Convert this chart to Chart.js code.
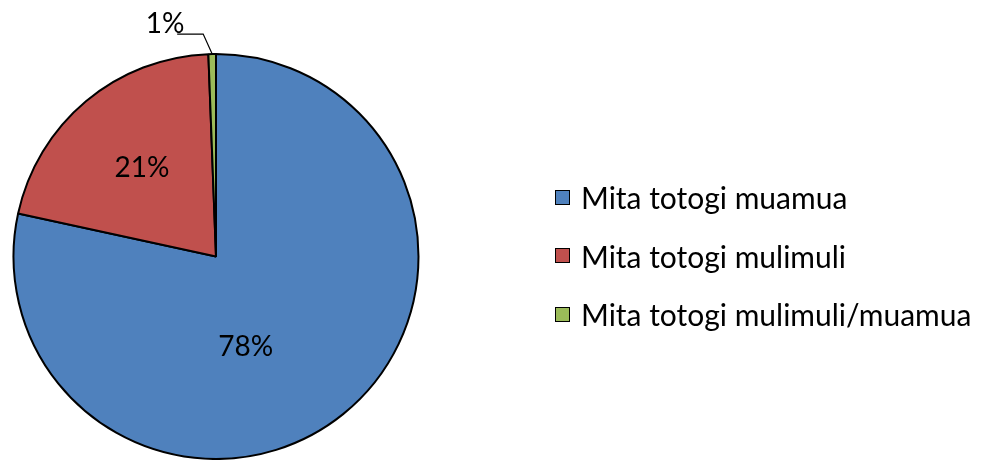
<!DOCTYPE html>
<html>
<head>
<meta charset="utf-8">
<script src="https://cdn.jsdelivr.net/npm/chart.js@4"></script>
<style>
  html, body { margin: 0; padding: 0; background: #fff; }
  #wrap { position: relative; width: 983px; height: 460px; }
  #legend { position: absolute; left: 555px; top: 168px; font-family: Lato, "Open Sans", sans-serif; font-size: 30px; color: #000; }
  .item { height: 58.5px; display: flex; align-items: center; }
  .box { width: 13px; height: 13px; border: 1.5px solid #000; margin-right: 11px; flex: none; }
</style>
</head>
<body>
<div id="wrap">
  <canvas id="chart" width="983" height="460"></canvas>
  <div id="legend"></div>
</div>
<script>
const categorias = ['Mita totogi muamua', 'Mita totogi mulimuli', 'Mita totogi mulimuli/muamua'];
const valores = [78.4, 21.0, 0.6];
const rotulos = ['78%', '21%', '1%'];
const cores = ['#4F81BD', '#C0504D', '#9BBB59'];

// legenda em HTML
const leg = document.getElementById('legend');
categorias.forEach((c, i) => {
    const d = document.createElement('div');
    d.className = 'item';
    d.innerHTML = `<span class="box" style="background:${cores[i]}"></span><span>${c}</span>`;
    leg.appendChild(d);
});

const rotulosPlugin = {
    id: 'rotulos',
    afterDatasetsDraw(chart) {
        const { ctx } = chart;
        const meta = chart.getDatasetMeta(0);
        ctx.save();
        ctx.font = '28px Lato, "Open Sans", sans-serif';
        ctx.fillStyle = '#000';
        ctx.textAlign = 'center';
        ctx.textBaseline = 'middle';
        meta.data.forEach((arc, i) => {
            const { x, y, startAngle, endAngle, outerRadius } = arc.getProps(['x', 'y', 'startAngle', 'endAngle', 'outerRadius'], true);
            const mid = (startAngle + endAngle) / 2;
            if (i === 2) {
                // rótulo externo com linha guia
                const px = x + Math.cos(mid) * outerRadius;
                const py = y + Math.sin(mid) * outerRadius;
                ctx.strokeStyle = '#000';
                ctx.lineWidth = 1.2;
                ctx.beginPath();
                ctx.moveTo(px, py);
                ctx.lineTo(px - 9, py - 20);
                ctx.lineTo(px - 35, py - 20);
                ctx.stroke();
                ctx.fillText(rotulos[i], px - 47, py - 30);
                return;
            }
            let ang = mid, f = 0.57;
            if (i === 0) { ang = mid + 0.36; f = 0.47; }
            ctx.fillText(rotulos[i], x + Math.cos(ang) * outerRadius * f, y + Math.sin(ang) * outerRadius * f);
        });
        ctx.restore();
    }
};

new Chart(document.getElementById('chart'), {
    type: 'pie',
    data: {
        labels: categorias,
        datasets: [{
            data: valores,
            backgroundColor: cores,
            borderColor: '#000',
            borderWidth: 2
        }]
    },
    options: {
        responsive: false,
        animation: false,
        layout: { padding: { left: 12, right: 563, top: 53, bottom: 0 } },
        plugins: { legend: { display: false }, tooltip: { enabled: false } }
    },
    plugins: [rotulosPlugin]
});
</script>
</body>
</html>
